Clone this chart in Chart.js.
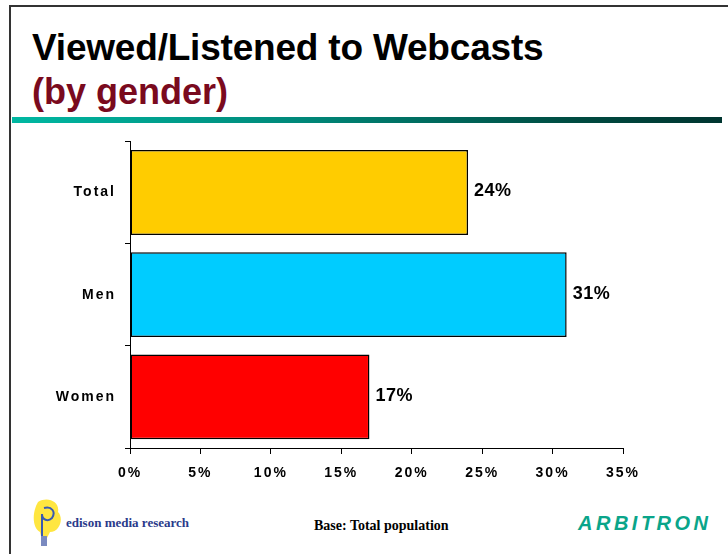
<!DOCTYPE html>
<html>
<head>
<meta charset="utf-8">
<script src="https://cdn.jsdelivr.net/npm/chart.js@4.4.1/dist/chart.umd.min.js"></script>
<style>
  body { margin: 0; width: 728px; height: 554px; background: #fff; position: relative; overflow: hidden; font-family: "Liberation Sans", Arial, sans-serif; }
  .frame { position: absolute; left: 9px; top: 5px; right: -5px; bottom: -5px; border-left: 2px solid #333; border-top: 2px solid #333; }
  .title { position: absolute; left: 32px; top: 27px; font-size: 37px; font-weight: bold; color: #000; letter-spacing: -0.2px; }
  .sub { position: absolute; left: 32px; top: 71px; font-size: 36px; font-weight: bold; color: #7a0a1e; }
  .rule { position: absolute; left: 12px; top: 117px; width: 710px; height: 6px; background: linear-gradient(to right, #00b8a2, #00897a 40%, #004a40 80%, #003530); }
  #wrap { position: absolute; left: 0; top: 124px; width: 728px; height: 366px; }
  .base { position: absolute; left: 314px; top: 518px; font-family: "Liberation Serif", "Times New Roman", serif; font-weight: bold; font-size: 14px; }
  .edison { position: absolute; left: 66px; top: 515px; font-family: "Liberation Serif", serif; font-weight: bold; font-size: 13px; color: #2a3a8a; }
  .arb { position: absolute; left: 578px; top: 512px; font-weight: bold; font-style: italic; font-size: 20px; color: #0aa58a; letter-spacing: 3.5px; }
</style>
</head>
<body>
<div class="frame"></div>
<div class="title">Viewed/Listened to Webcasts</div>
<div class="sub">(by gender)</div>
<div class="rule"></div>
<div id="wrap"><canvas id="myChart"></canvas></div>
<svg style="position:absolute;left:30px;top:498px" width="40" height="52">
  <path d="M8 4 C18 -2 30 4 28 14 C34 20 30 34 20 34 L16 42 L12 42 L10 34 C2 30 2 14 8 4 Z" fill="#ffe640"/>
  <path d="M14 10 C22 8 26 14 22 20 C18 24 12 22 12 16 M12 16 L12 38" stroke="#3a5ab0" stroke-width="2" fill="none"/>
  <rect x="11" y="38" width="6" height="10" fill="#7a8ac0"/>
</svg>
<div class="edison">edison media research</div>
<div class="base">Base: Total population</div>
<div class="arb">ARBITRON</div>
<script>
const categories = ["Total", "Men", "Women"];
const values = [24, 31, 17];
const barColors = ["#ffcc00", "#00ccff", "#ff0000"];
const xTicks = [0, 5, 10, 15, 20, 25, 30, 35];

// wider letter spacing like the original slide
const spacing = {
  id: "spacing",
  beforeDraw(chart) { chart.ctx.letterSpacing = "2px"; }
};

const valueLabels = {
  id: "valueLabels",
  afterDatasetsDraw(chart) {
    const ctx = chart.ctx;
    const meta = chart.getDatasetMeta(0);
    ctx.save();
    ctx.letterSpacing = "0.5px";
    ctx.font = "bold 18px 'Liberation Sans', Arial, sans-serif";
    ctx.fillStyle = "#000";
    ctx.textBaseline = "middle";
    meta.data.forEach((bar, i) => {
      ctx.fillText(values[i] + "%", bar.x + 6, bar.y - 1);
    });
    ctx.restore();
  }
};

const ctx = document.getElementById("myChart");
const myChart = new Chart(ctx, {
  type: "bar",
  data: {
    labels: categories,
    datasets: [{
      data: values,
      backgroundColor: barColors,
      borderColor: "#000",
      borderWidth: 1.5,
      borderSkipped: false,
      barPercentage: 0.83,
      categoryPercentage: 1
    }]
  },
  options: {
    indexAxis: "y",
    responsive: true,
    maintainAspectRatio: false,
    animation: false,
    layout: { padding: { top: 7, right: 105, left: 0, bottom: 0 } },
    plugins: { legend: { display: false }, tooltip: { enabled: false } },
    scales: {
      x: {
        min: 0,
        max: 35,
        afterBuildTicks: (s) => { s.ticks = xTicks.map((v) => ({ value: v })); },
        afterFit: (s) => { s.height = 42; },
        grid: { drawOnChartArea: false, color: "#000", tickLength: 6 },
        border: { color: "#000", width: 1 },
        ticks: {
          color: "#000",
          padding: 11,
          font: { family: "'Liberation Sans', Arial, sans-serif", size: 14, weight: "bold" },
          callback: (v) => v + "%"
        }
      },
      y: {
        afterFit: (s) => { s.width = 130; },
        grid: { drawOnChartArea: false, color: "#000", tickLength: 5, offset: true },
        border: { color: "#000", width: 1 },
        ticks: {
          color: "#000",
          padding: 9,
          font: { family: "'Liberation Sans', Arial, sans-serif", size: 14, weight: "bold" }
        }
      }
    }
  },
  plugins: [spacing, valueLabels]
});
</script>
</body>
</html>
